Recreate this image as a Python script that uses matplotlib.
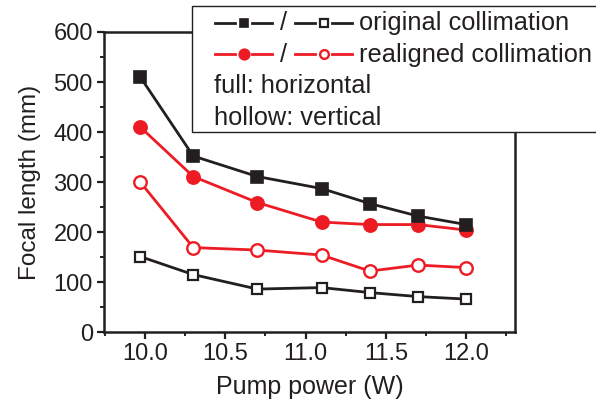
import matplotlib
matplotlib.use("Agg")
import matplotlib.pyplot as plt
from matplotlib.lines import Line2D
from matplotlib.patches import Rectangle
from matplotlib.ticker import MultipleLocator, FormatStrFormatter

plt.rcParams["font.family"] = ["Liberation Sans", "DejaVu Sans"]

# pump power (W) and focal lengths (mm)
pump_power = [9.97, 10.3, 10.7, 11.1, 11.4, 11.7, 12.0]
orig_horizontal = [510, 352, 311, 287, 257, 232, 215]
orig_vertical = [151, 115, 86, 89, 79, 71, 66]
realign_horizontal = [410, 311, 259, 220, 215, 215, 204]
realign_vertical = [300, 169, 164, 154, 122, 134, 129]

BLACK = "#231f20"
RED = "#ed1c24"
TEXT = "#231f20"

sq_full = dict(color=BLACK, marker="s", markersize=8, lw=2.0,
               markerfacecolor=BLACK, markeredgecolor=BLACK, markeredgewidth=1.2)
sq_open = dict(color=BLACK, marker="s", markersize=7.5, lw=2.0,
               markerfacecolor="white", markeredgecolor=BLACK, markeredgewidth=1.6)
ci_full = dict(color=RED, marker="o", markersize=9.5, lw=2.0,
               markerfacecolor=RED, markeredgecolor=RED, markeredgewidth=1.2)
ci_open = dict(color=RED, marker="o", markersize=9, lw=2.0,
               markerfacecolor="white", markeredgecolor=RED, markeredgewidth=1.7)

fig = plt.figure(figsize=(5.96, 4.05), dpi=100)
ax = fig.add_axes([0.1745, 0.180, 0.690, 0.741])

ax.plot(pump_power, orig_vertical, **sq_open)
ax.plot(pump_power, realign_vertical, **ci_open)
ax.plot(pump_power, realign_horizontal, **ci_full)
ax.plot(pump_power, orig_horizontal, **sq_full)

ax.set_xlim(9.744, 12.306)
ax.set_ylim(0, 600)
ax.xaxis.set_major_locator(MultipleLocator(0.5))
ax.xaxis.set_minor_locator(MultipleLocator(0.25))
ax.xaxis.set_major_formatter(FormatStrFormatter("%.1f"))
ax.yaxis.set_major_locator(MultipleLocator(100))
ax.yaxis.set_minor_locator(MultipleLocator(50))

for s in ax.spines.values():
    s.set_linewidth(1.8)
    s.set_color(BLACK)
ax.tick_params(which="major", direction="out", length=5, width=1.6,
               labelsize=17, colors=BLACK, labelcolor=TEXT, pad=3)
ax.tick_params(which="minor", direction="out", length=3, width=1.4, colors=BLACK)

ax.set_xlabel("Pump power (W)", fontsize=18, color=TEXT, labelpad=7)
ax.set_ylabel("Focal length (mm)", fontsize=17.5, color=TEXT, labelpad=9)

# legend box drawn in figure pixels, running off the right edge
W, H = 596.0, 405.0


def fx(px):
    return px / W


def fy(py):
    return 1 - py / H


fig.patches.append(Rectangle((fx(192), fy(132)), fx(420), 126 / H,
                             transform=fig.transFigure, facecolor="white",
                             edgecolor=BLACK, lw=1.0, zorder=10, clip_on=False))

LEG_SIZE = 18.3


def legend_row(y_mark, y_text, full, hollow, label):
    for x0, style, shrink in ((215, full, 0.8), (295, hollow, 0.7)):
        # short line pieces either side of the marker, with a small gap
        for a, b in ((x0, x0 + 20), (x0 + 37, x0 + 57)):
            fig.lines.append(Line2D([fx(a), fx(b)], [fy(y_mark), fy(y_mark)],
                                    transform=fig.transFigure, color=style["color"],
                                    lw=style["lw"], zorder=11))
        fig.lines.append(Line2D([fx(x0 + 28.5)], [fy(y_mark)], transform=fig.transFigure,
                                linestyle="none", marker=style["marker"],
                                markersize=style["markersize"] * shrink,
                                markerfacecolor=style["markerfacecolor"],
                                markeredgecolor=style["markeredgecolor"],
                                markeredgewidth=style["markeredgewidth"], zorder=12))
    fig.text(fx(283.5), fy(y_text), "/", ha="center", va="baseline",
             fontsize=LEG_SIZE, color=TEXT, zorder=12)
    fig.text(fx(359), fy(y_text), label, ha="left", va="baseline",
             fontsize=LEG_SIZE, color=TEXT, zorder=12)


legend_row(23, 30, sq_full, sq_open, "original collimation")
legend_row(54, 62, ci_full, ci_open, "realigned collimation")
fig.text(fx(214), fy(93), "full: horizontal", ha="left", va="baseline",
         fontsize=LEG_SIZE, color=TEXT, zorder=12)
fig.text(fx(214), fy(125), "hollow: vertical", ha="left", va="baseline",
         fontsize=LEG_SIZE, color=TEXT, zorder=12)

fig.savefig("out.png", dpi=100)
